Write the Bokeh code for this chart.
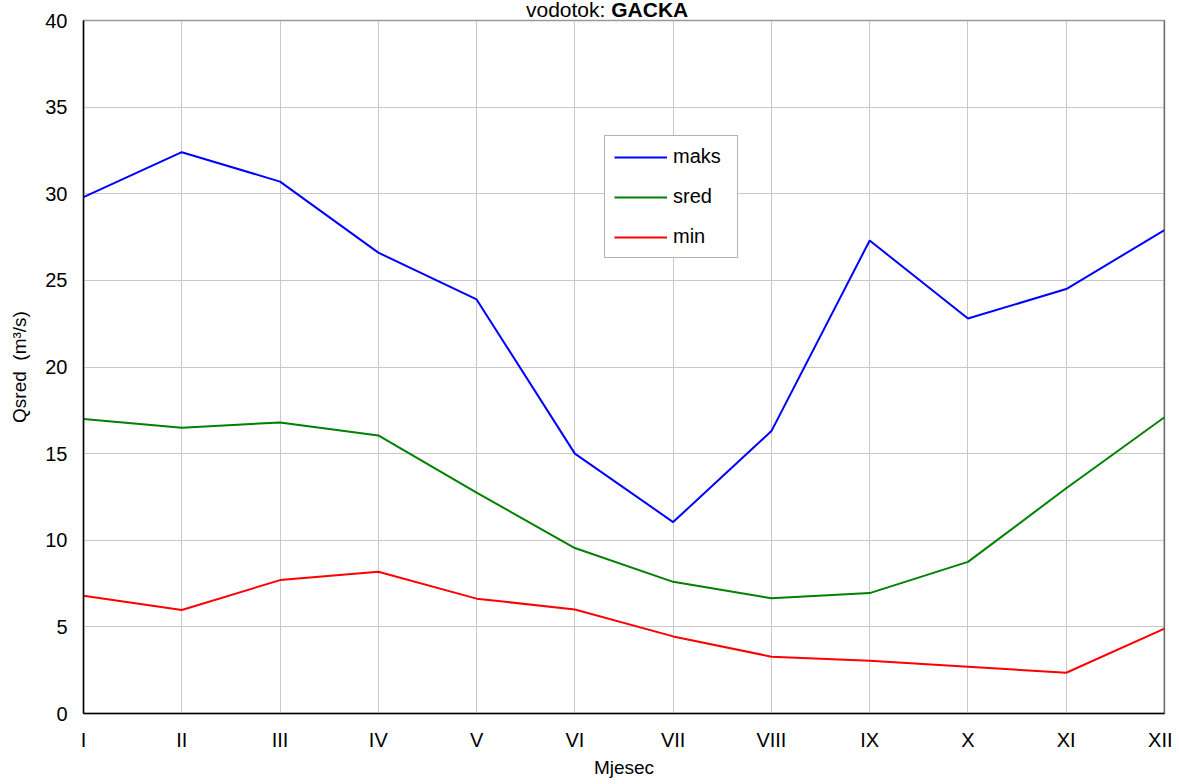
from bokeh.plotting import figure
from bokeh.models import (Range1d, FixedTicker, SingleIntervalTicker, Legend, LegendItem,
                          Span, Div)
from bokeh.layouts import column
from bokeh.embed import file_html
from bokeh.resources import INLINE

months = ["I", "II", "III", "IV", "V", "VI", "VII", "VIII", "IX", "X", "XI", "XII"]
month_idx = list(range(1, 13))
maks = [29.8, 32.4, 30.7, 26.6, 23.9, 15.0, 11.05, 16.3, 27.3, 22.8, 24.5, 27.9]
sred = [17.0, 16.5, 16.8, 16.05, 12.75, 9.55, 7.6, 6.65, 6.95, 8.75, 13.0, 17.1]
mins = [6.8, 5.97, 7.7, 8.18, 6.63, 6.0, 4.45, 3.28, 3.05, 2.7, 2.35, 4.9]
y_ticks_interval = 5
title_river = "GACKA"

FONT = "Liberation Sans"

p = figure(width=1172, height=772, output_backend="svg", toolbar_location=None,
           x_range=Range1d(1, 12), y_range=Range1d(0, 40),
           min_border_left=83, min_border_right=8, min_border_top=12, min_border_bottom=66)
p.background_fill_color = "white"
p.border_fill_color = "white"
p.border_fill_alpha = 0
p.outline_line_color = "#999999"
p.outline_line_width = 1.5

r_maks = p.line(month_idx, maks, line_color="#0000ff", line_width=2)
r_sred = p.line(month_idx, sred, line_color="#008000", line_width=2)
r_min = p.line(month_idx, mins, line_color="#ff0000", line_width=2)

# axes
xa = p.xaxis[0]
xa.ticker = FixedTicker(ticks=month_idx)
xa.major_label_overrides = {i: m for i, m in zip(month_idx, months)}
ya = p.yaxis[0]
ya.ticker = SingleIntervalTicker(interval=y_ticks_interval)
for ax in (xa, ya):
    ax.axis_line_color = "black"
    ax.axis_line_width = 1.5
    ax.major_tick_in = 0
    ax.major_tick_out = 0
    ax.minor_tick_in = 0
    ax.minor_tick_out = 0
    ax.major_label_text_font = FONT
    ax.major_label_text_font_size = "20px"
    ax.major_label_text_color = "black"
    ax.axis_label_text_font = FONT
    ax.axis_label_text_font_size = "19px"
    ax.axis_label_text_font_style = "normal"
    ax.axis_label_text_color = "black"
xa.major_label_standoff = 15
ya.major_label_standoff = 16
xa.axis_label = "Mjesec"
xa.axis_label_standoff = 3
ya.axis_label = "Qsred\u00a0\u00a0(m³/s)"
ya.axis_label_standoff = 12

p.add_layout(Span(location=12, dimension="height", line_color="#444444", line_width=1.5))

p.xgrid.grid_line_color = "#c8c8c8"
p.ygrid.grid_line_color = "#c8c8c8"
p.xgrid.grid_line_width = 1
p.ygrid.grid_line_width = 1

legend = Legend(items=[LegendItem(label="maks", renderers=[r_maks]),
                       LegendItem(label="sred", renderers=[r_sred]),
                       LegendItem(label="min", renderers=[r_min])],
                location=(521, 455), orientation="vertical",
                label_text_font=FONT, label_text_font_size="20px", label_text_color="black",
                glyph_width=53, glyph_height=22, label_height=22, label_width=55,
                label_standoff=6, spacing=17, padding=9, margin=0,
                border_line_color="#666666", border_line_width=1,
                background_fill_color="white", background_fill_alpha=1)
p.add_layout(legend, "center")

title = Div(text=f"vodotok: <b>{title_river}</b>", width=1172, height=8, margin=0,
            styles={"font-family": FONT, "font-size": "21px", "line-height": "19px",
                    "padding-left": "526px", "white-space": "nowrap", "color": "black",
                    "overflow": "visible", "z-index": "10"})

layout = column(title, p, spacing=0)

open("out.html", "w").write(file_html(layout, INLINE))
